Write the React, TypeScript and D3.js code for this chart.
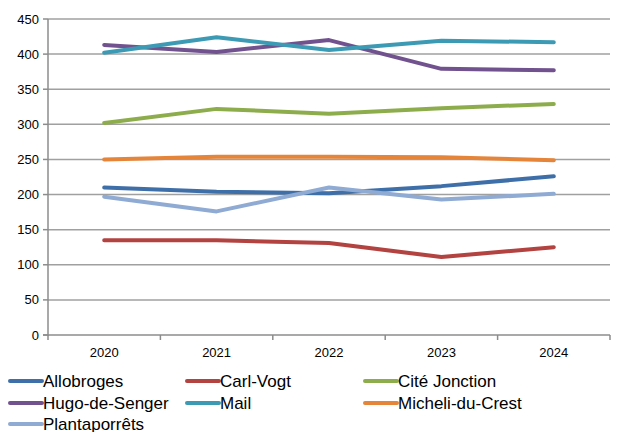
import { useEffect, useRef } from "react"
import * as d3 from "d3"

const years = ["2020", "2021", "2022", "2023", "2024"]
const seriesNames = [
  "Allobroges",
  "Carl-Vogt",
  "Cité Jonction",
  "Hugo-de-Senger",
  "Mail",
  "Micheli-du-Crest",
  "Plantaporrêts",
]
const allobroges = [210, 204, 202, 212, 226]
const carlVogt = [135, 135, 131, 111, 125]
const citeJonction = [302, 322, 315, 323, 329]
const hugoDeSenger = [413, 403, 420, 379, 377]
const mail = [402, 424, 406, 419, 417]
const micheliDuCrest = [250, 254, 254, 253, 249]
const plantaporrets = [197, 176, 210, 193, 201]
const yTicks = [0, 50, 100, 150, 200, 250, 300, 350, 400, 450]

const colors = ["#3F6FA8", "#B24341", "#8DAD4D", "#71528F", "#3D9AB4", "#E5853A", "#8FAAD3"]

export default function App() {
  const svgRef = useRef<SVGSVGElement>(null)

  useEffect(() => {
    if (!svgRef.current) return
    const width = 622
    const height = 432
    const margin = { top: 19, right: 12, bottom: 97, left: 48 }
    const values = [allobroges, carlVogt, citeJonction, hugoDeSenger, mail, micheliDuCrest, plantaporrets]

    d3.select(svgRef.current).selectAll("*").remove()
    const svg = d3.select(svgRef.current).attr("width", width).attr("height", height)

    const x = d3.scaleBand().domain(years).range([margin.left, width - margin.right])
    const y = d3.scaleLinear().domain([0, 450]).range([height - margin.bottom, margin.top])
    const font = "'Liberation Sans', Arial, sans-serif"

    // gridlines
    svg
      .selectAll(".grid")
      .data(yTicks.slice(1))
      .enter()
      .append("line")
      .attr("x1", margin.left)
      .attr("x2", width - margin.right)
      .attr("y1", (d) => y(d))
      .attr("y2", (d) => y(d))
      .attr("stroke", "#A0A0A0")
      .attr("stroke-width", 1.5)

    // axes
    const x0 = margin.left
    const yBase = y(0)
    svg.append("line").attr("x1", x0).attr("x2", x0).attr("y1", margin.top).attr("y2", yBase + 1)
      .attr("stroke", "#8C8C8C").attr("stroke-width", 1.5)
    svg.append("line").attr("x1", x0 - 5).attr("x2", width - margin.right).attr("y1", yBase).attr("y2", yBase)
      .attr("stroke", "#8C8C8C").attr("stroke-width", 1.5)

    // y ticks
    svg.selectAll(".ytick").data(yTicks).enter().append("line")
      .attr("x1", x0 - 5).attr("x2", x0).attr("y1", (d) => y(d)).attr("y2", (d) => y(d))
      .attr("stroke", "#8C8C8C").attr("stroke-width", 1.5)
    svg.selectAll(".ylabel").data(yTicks).enter().append("text")
      .attr("x", x0 - 9).attr("y", (d) => y(d)).attr("dy", "0.35em")
      .attr("text-anchor", "end").attr("font-family", font).attr("font-size", 13).attr("fill", "#000")
      .text((d) => d)

    // x ticks (category boundaries)
    const bounds = years.map((d) => x(d) as number).concat([width - margin.right])
    svg.selectAll(".xtick").data(bounds).enter().append("line")
      .attr("x1", (d) => d).attr("x2", (d) => d).attr("y1", yBase).attr("y2", yBase + 5)
      .attr("stroke", "#8C8C8C").attr("stroke-width", 1.5)
    svg.selectAll(".xlabel").data(years).enter().append("text")
      .attr("x", (d) => (x(d) as number) + x.bandwidth() / 2).attr("y", yBase + 22)
      .attr("text-anchor", "middle").attr("font-family", font).attr("font-size", 13).attr("fill", "#000")
      .text((d) => d)

    // lines
    const line = d3.line<number>()
      .x((_, i) => (x(years[i]) as number) + x.bandwidth() / 2)
      .y((d) => y(d))
    values.forEach((vals, i) => {
      svg.append("path").attr("d", line(vals)).attr("fill", "none")
        .attr("stroke", colors[i]).attr("stroke-width", 4)
        .attr("stroke-linejoin", "round").attr("stroke-linecap", "round")
    })

    // legend
    const colX = [10, 187, 365]
    const rowY = [381, 403, 424]
    seriesNames.forEach((name, i) => {
      const lx = colX[i % 3]
      const ly = rowY[Math.floor(i / 3)]
      svg.append("line").attr("x1", lx).attr("x2", lx + 32).attr("y1", ly).attr("y2", ly)
        .attr("stroke", colors[i]).attr("stroke-width", 4).attr("stroke-linecap", "round")
      svg.append("text").attr("x", lx + 33).attr("y", ly).attr("dy", "0.35em")
        .attr("font-family", font).attr("font-size", 17).attr("fill", "#000")
        .text(name)
    })
  }, [])

  return (
    <div style={{ position: "absolute", left: 0, top: 0 }}>
      <svg ref={svgRef} style={{ display: "block" }} />
    </div>
  )
}
